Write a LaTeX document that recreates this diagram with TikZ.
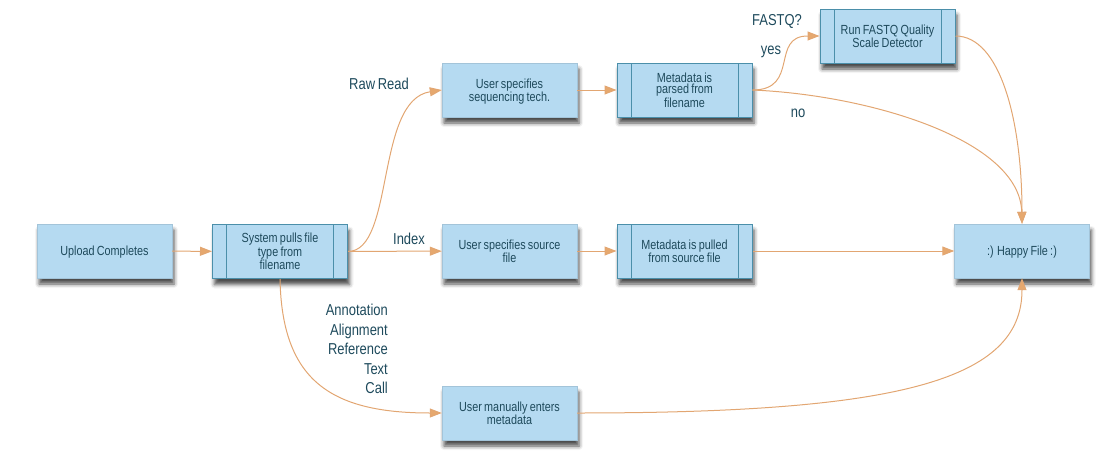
\documentclass[tikz,border=0pt]{standalone}
\usepackage{fontspec}
\setmainfont[FakeStretch=0.82,WordSpace=0.75]{Liberation Sans}
\lefthyphenmin=64
\usetikzlibrary{arrows.meta,shadows.blur,positioning}
\definecolor{boxfill}{HTML}{B5DAF1}
\definecolor{boxline}{HTML}{4B8FAA}
\definecolor{txt}{HTML}{1E4A5C}
\definecolor{arr}{HTML}{E2A672}
\definecolor{arrfill}{HTML}{E6A86E}
\tikzset{
  box/.style={fill=boxfill, draw=boxfill!90!black, line width=0.4pt, minimum width=135pt, minimum height=54pt,
    align=center, text=txt, font=\fontsize{13.2}{11.5}\selectfont, inner sep=0pt, text depth=0pt,
    blur shadow={shadow xshift=2pt, shadow yshift=-6pt, shadow blur radius=4pt, shadow opacity=70}},
  proc/.style={box, draw=boxline, line width=1pt,
    path picture={\draw[boxline, line width=1pt]
      ([xshift=14pt]path picture bounding box.north west) -- ([xshift=14pt]path picture bounding box.south west)
      ([xshift=-14pt]path picture bounding box.north east) -- ([xshift=-14pt]path picture bounding box.south east);}},
  conn/.style={draw=arr, line width=1pt, -{Triangle[length=12pt,width=9pt,fill=arrfill]}},
  lab/.style={text=txt, font=\fontsize{15.8}{17}\selectfont, inner sep=0pt}
}
\begin{document}
\begin{tikzpicture}[x=1pt,y=-1pt]
\useasboundingbox (0,0) rectangle (1117,469);
\node[box]  (upload) at (104.5,251) {Upload Completes};
\node[proc] (sys)    at (280,251.5) {System pulls file\\type from\\filename};
\node[box]  (seq)    at (509.5,90) {User specifies\\sequencing tech.};
\node[proc] (parsed) at (684.5,90) {Metadata is\\parsed from\\filename};
\node[proc] (fastq)  at (887.5,36) {Run FASTQ Quality\\Scale Detector};
\node[box]  (src)    at (509.5,251) {User specifies source\\file};
\node[proc] (pulled) at (684.5,251) {Metadata is pulled\\from source file};
\node[box]  (happy)  at (1022,251) {:) Happy File :)};
\node[box]  (manual) at (509.5,413) {User manually enters\\metadata};

\node[lab] (lraw) at (379,84) {Raw Read};
\node[lab] (lidx) at (409,239) {Index};
\node[lab] (lfq)  at (777,21) {FASTQ?};
\node[lab] (lyes) at (771,52) {yes};
\node[lab] (lno)  at (798,113) {no};
\node[lab, align=right, anchor=north east, font=\fontsize{15.8}{19.5}\selectfont] (ltypes) at (388,304) {Annotation\\Alignment\\Reference\\Text\\Call};

\draw[conn] (upload) -- (sys);
\draw[conn] (sys.east) .. controls (395,251) and (375,100) .. (seq.west);
\draw[conn] (sys) -- (src);
\draw[conn] (sys.south) .. controls (282,380) and (330,413) .. (manual.west);
\draw[conn] (seq) -- (parsed);
\draw[conn] (parsed.east) .. controls (800,90) and (770,36) .. (fastq.west);
\draw[conn] (parsed.east) .. controls (870,95) and (1020,140) .. (happy.north);
\draw[conn] (fastq.east) .. controls (1000,36) and (1022,120) .. (happy.north);
\draw[conn] (src) -- (pulled);
\draw[conn] (pulled) -- (happy);
\draw[conn] (manual.east) .. controls (900,413) and (1022,380) .. (happy.south);
\end{tikzpicture}
\end{document}
